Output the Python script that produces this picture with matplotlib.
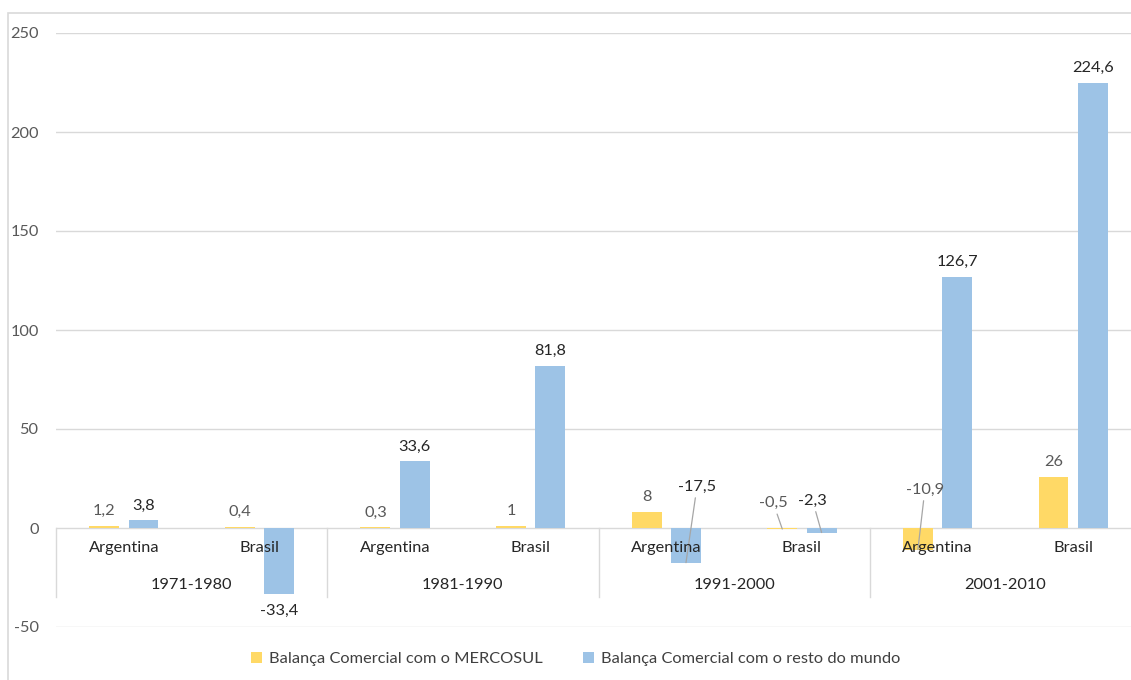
import matplotlib
matplotlib.use("Agg")
import matplotlib.pyplot as plt
from matplotlib.patches import Rectangle
import numpy as np

plt.rcParams['font.family'] = ['Lato', 'DejaVu Sans']

# Data
periods = ["1971-1980", "1981-1990", "1991-2000", "2001-2010"]
countries = ["Argentina", "Brasil"]
mercosul = [1.2, 0.4, 0.3, 1, 8, -0.5, -10.9, 26]
resto_mundo = [3.8, -33.4, 33.6, 81.8, -17.5, -2.3, 126.7, 224.6]
series_names = ["Balança Comercial com o MERCOSUL",
                "Balança Comercial com o resto do mundo"]
yticks = [-50, 0, 50, 100, 150, 200, 250]

YELLOW = "#FFD966"
BLUE = "#9DC3E6"
GRID = "#D9D9D9"
TICK = "#595959"
FS = 11.8

W, H = 1131, 680
fig = plt.figure(figsize=(W / 100, H / 100), dpi=100)

# plot area in pixel units
left, right, top, bottom = 56, 1141, 33, 627
ax = fig.add_axes([left / W, 1 - bottom / H, (right - left) / W, (bottom - top) / H])

n = len(mercosul)
x = np.arange(n)
bw = 0.22
off = 0.145
b1 = ax.bar(x - off, mercosul, bw, color=YELLOW, zorder=3)
b2 = ax.bar(x + off, resto_mundo, bw, color=BLUE, zorder=3)

ax.set_xlim(-0.5, n - 0.5)
ax.set_ylim(-50, 250)
ax.set_yticks(yticks)
ax.set_yticklabels([str(v) for v in yticks], color=TICK, fontsize=FS)
ax.tick_params(axis='y', length=0, pad=12.5)
ax.set_xticks([])
for s in ax.spines.values():
    s.set_visible(False)
for v in yticks:
    ax.axhline(v, color=GRID, lw=1.0, zorder=1)

# category axis drawn inside the plot below zero
for b in [-0.5, 1.5, 3.5, 5.5, 7.5]:
    ax.plot([b, b], [0, -35], color=GRID, lw=1.0, zorder=1, clip_on=False)
for i in range(n):
    ax.text(i, -10.2, countries[i % 2], ha='center', va='center', fontsize=FS,
            color="#262626", zorder=6)
for j, p in enumerate(periods):
    ax.text(2 * j + 0.5, -28.8, p, ha='center', va='center', fontsize=FS,
            color="#262626", zorder=6)


def fmt(v):
    s = f"{v:g}"
    return s.replace('.', ',')


# labels that sit away from their bar, joined by a leader line (pixel offsets)
moved = {
    ("m", 5): (-9, 26),
    ("m", 6): (7, 60),
    ("r", 4): (11, 76),
    ("r", 5): (-9, 32),
}

for key, vals, bars, col in [("m", mercosul, b1, "#595959"),
                            ("r", resto_mundo, b2, "#262626")]:
    for i, (v, bar) in enumerate(zip(vals, bars)):
        cx = bar.get_x() + bar.get_width() / 2
        if (key, i) in moved:
            dx, dy = moved[(key, i)]
            ax.annotate(fmt(v), xy=(cx, v), xytext=(dx, dy),
                        textcoords='offset pixels', ha='center', va='center',
                        fontsize=FS, color=col, zorder=5,
                        arrowprops=dict(arrowstyle='-', color='#A6A6A6',
                                        lw=0.9, shrinkA=1, shrinkB=0))
        elif v >= 0:
            ax.annotate(fmt(v), xy=(cx, v), xytext=(0, 8),
                        textcoords='offset pixels', ha='center', va='bottom',
                        fontsize=FS, color=col, zorder=5)
        else:
            ax.annotate(fmt(v), xy=(cx, v), xytext=(0, -10),
                        textcoords='offset pixels', ha='center', va='top',
                        fontsize=FS, color=col, zorder=5)

# legend
leg = fig.legend([b1, b2], series_names, loc='center', ncol=2,
                 bbox_to_anchor=(0.509, 1 - 659 / H), frameon=False,
                 fontsize=FS, handlelength=0.7, handleheight=0.7,
                 handletextpad=0.4, columnspacing=2.45)
for t in leg.get_texts():
    t.set_color("#404040")

# chart frame
fig.add_artist(Rectangle((8 / W, -0.1), 1.2, 1 - 13 / H + 0.1,
                         transform=fig.transFigure, fill=False,
                         edgecolor=GRID, lw=1.2))

fig.savefig("out.png", dpi=100, facecolor="white")
